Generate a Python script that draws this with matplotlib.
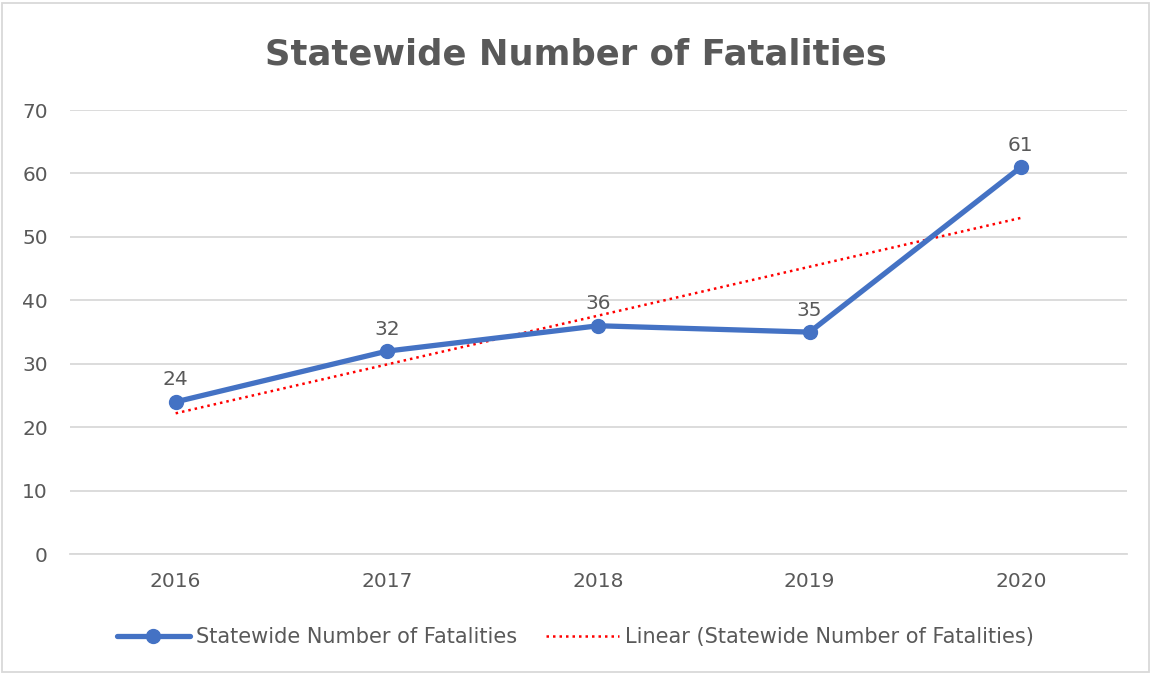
import matplotlib.pyplot as plt
import numpy as np

years = ["2016", "2017", "2018", "2019", "2020"]
fatalities = [24, 32, 36, 35, 61]
y_ticks = [0, 10, 20, 30, 40, 50, 60, 70]

series_name = "Statewide Number of Fatalities"
trend_name = "Linear (Statewide Number of Fatalities)"

text_color = "#595959"
grid_color = "#D9D9D9"
blue = "#4472C4"

plt.rcParams["font.family"] = ["DejaVu Sans"]

fig = plt.figure(figsize=(11.51, 6.75), dpi=100)
ax = fig.add_axes([0.0608, 0.179, 0.918, 0.658])

x = np.arange(len(years))

# Linear trendline (least squares fit, as in the spreadsheet chart)
slope, intercept = np.polyfit(x, fatalities, 1)
trend = slope * x + intercept

ax.plot(x, fatalities, color=blue, lw=3.8, marker="o", markersize=10,
        label=series_name, zorder=3, solid_capstyle="round")
ax.plot(x, trend, color="#FF0000", lw=1.8, linestyle=(0, (1, 1.6)),
        label=trend_name, zorder=2)

# Data labels
for xi, v in zip(x, fatalities):
    ax.annotate(str(v), (xi, v), xytext=(0, 9), textcoords="offset points",
                ha="center", va="bottom", fontsize=14.5, color=text_color)

ax.set_xlim(-0.5, len(years) - 0.5)
ax.set_ylim(0, 70)
ax.set_yticks(y_ticks)
ax.set_xticks(x)
ax.set_xticklabels(years)
ax.tick_params(axis="both", length=0, labelsize=14.5, labelcolor=text_color)
ax.tick_params(axis="y", pad=16)
ax.tick_params(axis="x", pad=13)

ax.grid(axis="y", color=grid_color, lw=1.3)
ax.set_axisbelow(True)
for side in ["top", "right", "left"]:
    ax.spines[side].set_visible(False)
ax.spines["bottom"].set_color(grid_color)
ax.spines["bottom"].set_linewidth(1.3)

fig.suptitle("Statewide Number of Fatalities", fontsize=25.5, fontweight="bold",
             color=text_color, y=0.945)

fig.legend(loc="center", bbox_to_anchor=(0.5, 0.056), ncol=2, frameon=False,
           fontsize=15, labelcolor=text_color, handlelength=3.5,
           handletextpad=0.3, columnspacing=1.4)

# Light border around the chart area
fig.patches.append(plt.Rectangle((0.002, 0.004), 0.996, 0.992, transform=fig.transFigure,
                                 fill=False, edgecolor="#D9D9D9", lw=1.3))

fig.savefig("out.png", dpi=100)
plt.close()
